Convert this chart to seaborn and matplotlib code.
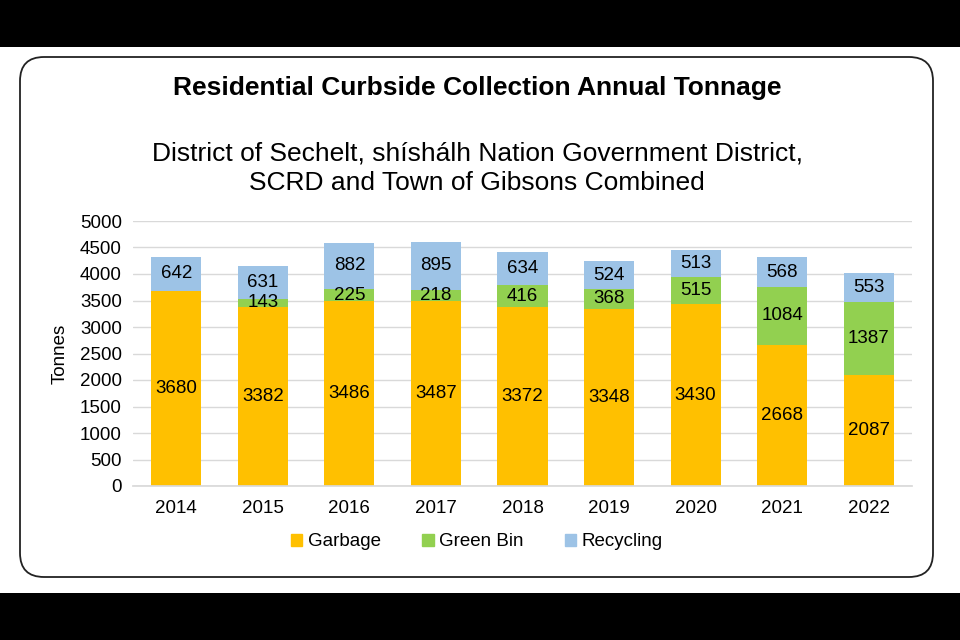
import numpy as np
import pandas as pd
import matplotlib
matplotlib.use('Agg')
import matplotlib.pyplot as plt
from matplotlib.patches import Patch, FancyBboxPatch, Rectangle
import seaborn as sns

years = ['2014', '2015', '2016', '2017', '2018', '2019', '2020', '2021', '2022']
garbage = [3680, 3382, 3486, 3487, 3372, 3348, 3430, 2668, 2087]
green_bin = [0, 143, 225, 218, 416, 368, 515, 1084, 1387]
recycling = [642, 631, 882, 895, 634, 524, 513, 568, 553]

col_garbage = '#FFC000'
col_green = '#92D050'
col_recycling = '#9DC3E6'

sns.set_theme(style="white")
plt.rcParams['font.family'] = ['Liberation Sans', 'DejaVu Sans']
plt.rcParams['text.color'] = 'black'

df = pd.DataFrame({'Year': years, 'Garbage': garbage,
                   'Green Bin': green_bin, 'Recycling': recycling})
df['g_top'] = df['Garbage'] + df['Green Bin']
df['total'] = df['g_top'] + df['Recycling']

fig = plt.figure(figsize=(9.6, 6.4), dpi=100)
fig.patch.set_facecolor('white')

# black bands and rounded frame
fig.add_artist(Rectangle((0, 1 - 47 / 640), 1, 47 / 640, transform=fig.transFigure,
                         facecolor='black', edgecolor='none', zorder=-2))
fig.add_artist(Rectangle((0, 0), 1, 47 / 640, transform=fig.transFigure,
                         facecolor='black', edgecolor='none', zorder=-2))
fig.add_artist(FancyBboxPatch((20 / 960, 1 - 577 / 640), 913 / 960, 520 / 640,
                              boxstyle='round,pad=0,rounding_size=0.025',
                              transform=fig.transFigure, facecolor='white',
                              edgecolor='#222222', linewidth=1.3, zorder=-1,
                              mutation_aspect=960 / 640))

ax = fig.add_axes([133 / 960, 1 - 486 / 640, 779 / 960, 265 / 640])
ax.set_facecolor('none')

w = 0.58
sns.barplot(data=df, x='Year', y='total', color=col_recycling, width=w,
            saturation=1, linewidth=0, ax=ax, zorder=2)
sns.barplot(data=df, x='Year', y='g_top', color=col_green, width=w,
            saturation=1, linewidth=0, ax=ax, zorder=2)
sns.barplot(data=df, x='Year', y='Garbage', color=col_garbage, width=w,
            saturation=1, linewidth=0, ax=ax, zorder=2)

for i, row in df.iterrows():
    ax.text(i, row['Garbage'] / 2, str(row['Garbage']), ha='center', va='center',
            fontsize=13.5, color='black', zorder=3)
    if row['Green Bin'] > 0:
        ax.text(i, row['Garbage'] + row['Green Bin'] / 2, str(row['Green Bin']),
                ha='center', va='center', fontsize=13.5, color='black', zorder=3)
    ax.text(i, row['g_top'] + row['Recycling'] / 2, str(row['Recycling']),
            ha='center', va='center', fontsize=13.5, color='black', zorder=3)

ax.set_ylim(0, 5000)
ax.set_xlim(-0.5, len(years) - 0.5)
ax.set_yticks(np.arange(0, 5001, 500))
ax.yaxis.grid(True, color='#D9D9D9', linewidth=1, zorder=0)
ax.xaxis.grid(False)
for s in ['top', 'right', 'left']:
    ax.spines[s].set_visible(False)
ax.spines['bottom'].set_color('#D9D9D9')
ax.tick_params(axis='both', length=0, labelsize=13.5, colors='black')
ax.tick_params(axis='x', pad=10)
ax.tick_params(axis='y', pad=8)
ax.set_xlabel('')
ax.set_ylabel('Tonnes', fontsize=13.5, labelpad=8, color='black')

fig.text(0.497, 1 - 88 / 640, 'Residential Curbside Collection Annual Tonnage',
         ha='center', va='center', fontsize=19, fontweight='bold')
fig.text(0.497, 1 - 168 / 640,
         'District of Sechelt, shíshálh Nation Government District,\nSCRD and Town of Gibsons Combined',
         ha='center', va='center', fontsize=19, linespacing=1.3)

handles = [Patch(color=col_garbage, label='Garbage'),
           Patch(color=col_green, label='Green Bin'),
           Patch(color=col_recycling, label='Recycling')]
fig.legend(handles=handles, loc='center', bbox_to_anchor=(0.497, 1 - 542 / 640),
           ncol=3, frameon=False, fontsize=13.5, handlelength=0.6, handleheight=0.6,
           handletextpad=0.3, columnspacing=2.2)

fig.savefig('out.png', dpi=100)
